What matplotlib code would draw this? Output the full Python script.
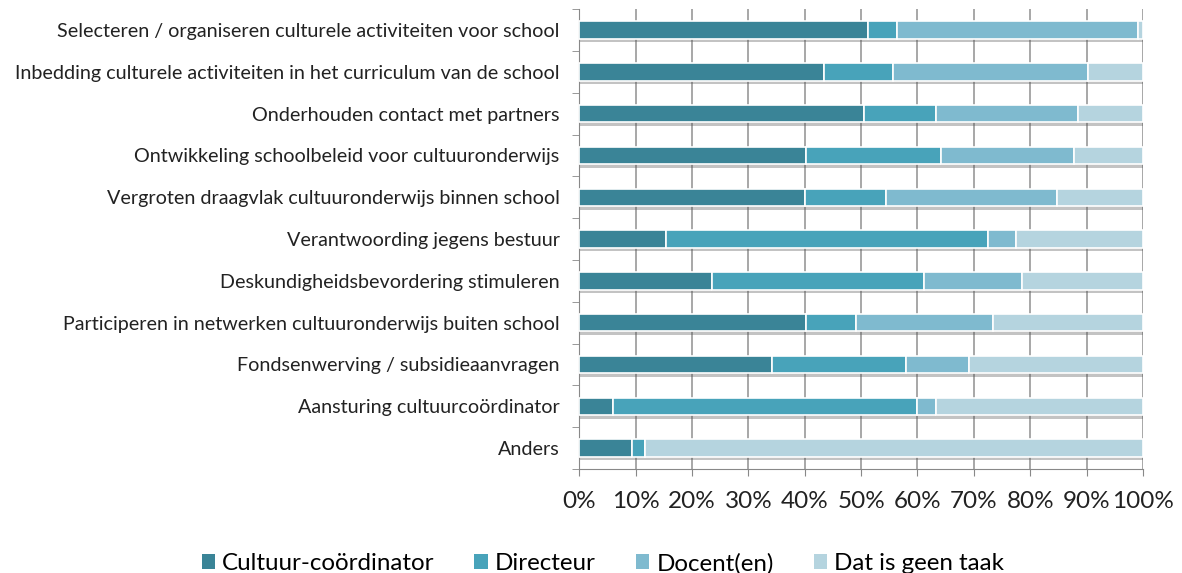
import numpy as np
import matplotlib.pyplot as plt
from matplotlib import patheffects as pe
from matplotlib.patches import Patch

# categories, top to bottom
categories = [
    "Selecteren / organiseren culturele activiteiten voor school",
    "Inbedding culturele activiteiten in het curriculum van de school",
    "Onderhouden contact met partners",
    "Ontwikkeling schoolbeleid voor cultuuronderwijs",
    "Vergroten draagvlak cultuuronderwijs binnen school",
    "Verantwoording jegens bestuur",
    "Deskundigheidsbevordering stimuleren",
    "Participeren in netwerken cultuuronderwijs buiten school",
    "Fondsenwerving / subsidieaanvragen",
    "Aansturing cultuurcoördinator",
    "Anders",
]

series_names = ["Cultuur-coördinator", "Directeur", "Docent(en)", "Dat is geen taak"]

coordinator = [51.3, 43.4, 50.5, 40.3, 40.1, 15.4, 23.5, 40.3, 34.2, 6.0, 9.3]
directeur = [5.1, 12.3, 12.8, 23.8, 14.3, 57.1, 37.7, 8.8, 23.8, 54.0, 2.4]
docenten = [42.8, 34.6, 25.2, 23.7, 30.4, 5.0, 17.4, 24.3, 11.1, 3.2, 0.0]
geen_taak = [0.8, 9.7, 11.5, 12.2, 15.2, 22.5, 21.4, 26.6, 30.9, 36.8, 88.3]

colors = ["#3a8497", "#48a3ba", "#7fbacf", "#b5d4df"]

plt.rcParams['font.family'] = ['Lato', 'DejaVu Sans']

fig = plt.figure(figsize=(11.82, 5.73), dpi=100)
ax = fig.add_axes([0.49, 0.1815, 0.477, 0.8025])

y = np.arange(len(categories))
left = np.zeros(len(categories))
shadow = [pe.SimplePatchShadow(offset=(0.5, -2.5), shadow_rgbFace='#555555', alpha=0.35), pe.Normal()]
for vals, col in zip([coordinator, directeur, docenten, geen_taak], colors):
    vals = np.array(vals)
    bars = ax.barh(y, vals, left=left, height=0.42, color=col, edgecolor='white',
                   linewidth=1.2, zorder=3)
    for b in bars:
        b.set_path_effects(shadow)
    left += vals

ax.set_xlim(0, 100)
ax.set_ylim(len(categories) - 0.5, -0.5)
ax.set_xticks(np.arange(0, 101, 10))
ax.set_xticklabels([f"{v}%" for v in range(0, 101, 10)], fontsize=17.5, color='#222222')
ax.set_yticks(y)
ax.set_yticklabels(categories, fontsize=14.2, color='#222222')
ax.set_yticks(np.arange(-0.5, len(categories), 1), minor=True)
ax.tick_params(axis='y', which='major', length=0, pad=14)
ax.tick_params(axis='y', which='minor', length=5, color='#888888')
ax.tick_params(axis='x', length=5, color='#888888', pad=11)

ax.grid(axis='x', color='#909090', linewidth=1.1, zorder=0)
for s in ['top', 'right']:
    ax.spines[s].set_visible(False)
for s in ['left', 'bottom']:
    ax.spines[s].set_color('#888888')

handles = [Patch(facecolor=c, edgecolor='none') for c in colors]
fig.legend(handles, series_names, loc='lower center', bbox_to_anchor=(0.51, -0.04), ncol=4,
           frameon=False, fontsize=17.4, handlelength=0.55, handleheight=0.55, handletextpad=0.3,
           columnspacing=1.65)

fig.savefig("out.png", dpi=100)
